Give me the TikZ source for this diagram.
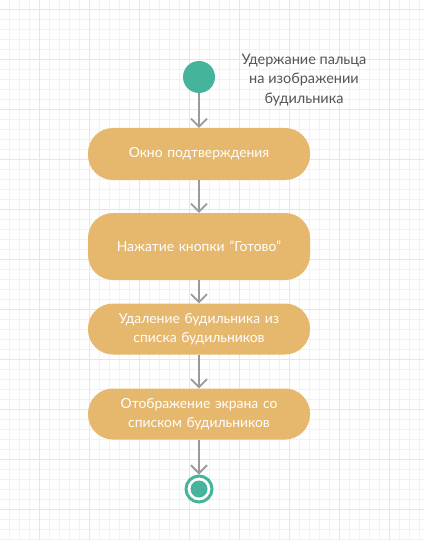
\documentclass[tikz,border=0pt]{standalone}
\usepackage{fontspec}
\setmainfont{Lato}
\usetikzlibrary{arrows.meta,shapes.misc}
\definecolor{teal1}{HTML}{46B39B}
\definecolor{box1}{HTML}{E5B86E}
\definecolor{arr}{HTML}{9A9A9A}
\definecolor{gridmin}{HTML}{F2F2F2}
\definecolor{gridmaj}{HTML}{E6E6E6}
\definecolor{lbl}{HTML}{555555}
\tikzset{
  act/.style={draw=none, fill=box1, rounded corners=25pt, minimum width=222pt,
    text width=215pt, align=center, text=white, font=\fontsize{13.9}{19}\selectfont},
  flow/.style={draw=arr, line width=1.8pt, -{Straight Barb[length=8pt,width=16pt,line width=1.8pt]}},
}
\begin{document}
\begin{tikzpicture}[x=1pt,y=-1pt]
\useasboundingbox (0,0) rectangle (424,540);
\fill[white] (0,0) rectangle (424,540);
\foreach \i in {0,...,42} {
  \draw[gridmin, line width=0.8pt] (\i*10+9.5,0) -- (\i*10+9.5,540);
}
\foreach \j in {0,...,53} {
  \draw[gridmin, line width=0.8pt] (0,\j*10+9.5) -- (424,\j*10+9.5);
}
\foreach \i in {0,...,8} {
  \draw[gridmaj, line width=0.8pt] (\i*50+39.5,0) -- (\i*50+39.5,540);
}
\foreach \j in {0,...,10} {
  \draw[gridmaj, line width=0.8pt] (0,\j*50+9.5) -- (424,\j*50+9.5);
}
\node[circle, fill=teal1, minimum size=32pt, inner sep=0pt] (start) at (199,77) {};
\node[align=center, text=lbl, font=\fontsize{14.5}{19.5}\selectfont] (lab) at (304,80)
  {Удержание пальца\\на изображении\\будильника};
\node[act, minimum height=52pt] (a1) at (199,154) {Окно подтверждения};
\node[act, minimum height=67pt] (a2) at (199,246.5) {Нажатие кнопки "Готово"};
\node[act, minimum height=51pt] (a3) at (199,329) {Удаление будильника из\\списка будильников};
\node[act, minimum height=51pt] (a4) at (199,414) {Отображение экрана со\\списком будильников};
\node[circle, draw=teal1, line width=3pt, fill=white, minimum size=26pt, inner sep=0pt] (end) at (199,489) {};
\fill[teal1] (end.center) circle (8.5pt);
\draw[flow] (start) -- (a1);
\draw[flow] (a1) -- (a2);
\draw[flow] (a2) -- (a3);
\draw[flow] (a3) -- (a4);
\draw[flow] (a4) -- (end);
\end{tikzpicture}
\end{document}
